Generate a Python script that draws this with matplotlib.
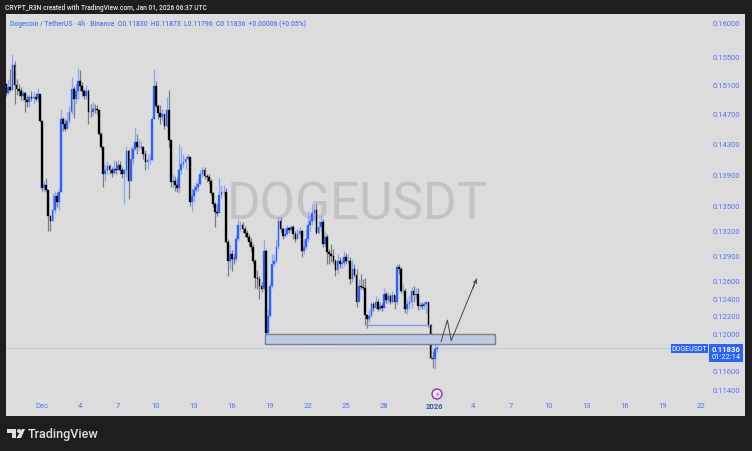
import numpy as np
import matplotlib
matplotlib.use("Agg")
import matplotlib.pyplot as plt
from matplotlib.patches import Rectangle, Polygon, Circle

plt.rcParams['font.family'] = ['Roboto', 'DejaVu Sans']

# 4h candles, first one sits 17 bars before Dec 1
first_bar = -17
first_open = 0.1511
closes = [
    .1498, .1507, .1503, .1538, .1510, .1504, .1501, .1494, .1498, .1489, .1486, .1493, .1492, .1493, .1490, .1497, .1460,
    .1372, .1377, .1370, .1338, .1332, .1345, .1363, .1355, .1368, .1463, .1456, .1450, .1460, .1473, .1504, .1490, .1501,
    .1515, .1508, .1501, .1494, .1501, .1473, .1472, .1477, .1476, .1475, .1443, .1426, .1390, .1395, .1401, .1396, .1392,
    .1397, .1395, .1402, .1396, .1391, .1395, .1420, .1382, .1410, .1423, .1432, .1426, .1426, .1426, .1417, .1406, .1408,
    .1409, .1463, .1508, .1480, .1471, .1466, .1470, .1454, .1475, .1435, .1380, .1382, .1377, .1372, .1395, .1404, .1406,
    .1410, .1412, .1355, .1363, .1370, .1374, .1378, .1391, .1395, .1388, .1386, .1381, .1366, .1353, .1343, .1341, .1364,
    .1367, .1368, .1306, .1283, .1292, .1286, .1285, .1310, .1327, .1327, .1322, .1317, .1312, .1306,
    .1300, .1283, .1263, .1262, .1254, .1250, .1295, .1201, .1220, .1254, .1280, .1283, .1300, .1332, .1322, .1313, .1316,
    .1323, .1321, .1324, .1316, .1310, .1316, .1319, .1295, .1300, .1310, .1327, .1332, .1341, .1345, .1317, .1324, .1330,
    .1303, .1312, .1294, .1292, .1289, .1283, .1272, .1283, .1280, .1281, .1288, .1283, .1283, .1262, .1274, .1267, .1235,
    .1254, .1253, .1251, .1221, .1216, .1220, .1233, .1229, .1235, .1228, .1231, .1229, .1245, .1238, .1242, .1236, .1243,
    .1235, .1276, .1274, .1248, .1248, .1227, .1233, .1236, .1248, .1244, .1245, .1231, .1232, .1231, .1233, .1236, .1209,
    .1173, .1172, .1183, .11836,
]
highs = [
    .1512, .1518, .1532, .1554, .1543, .1518, .1511, .1507, .1503, .1500, .1496, .1496, .1501, .1500, .1499, .1505, .1497,
    .1460, .1381, .1385, .1370, .1339, .1366, .1369, .1368, .1372, .1476, .1466, .1463, .1473, .1480, .1521, .1508, .1511,
    .1534, .1531, .1514, .1504, .1510, .1504, .1483, .1486, .1483, .1482, .1475, .1446, .1427, .1404, .1407, .1404, .1400,
    .1408, .1407, .1408, .1407, .1400, .1397, .1427, .1423, .1427, .1427, .1451, .1443, .1436, .1434, .1427, .1421, .1417,
    .1416, .1466, .1532, .1515, .1483, .1482, .1476, .1470, .1493, .1503, .1435, .1391, .1388, .1385, .1429, .1426, .1416,
    .1414, .1416, .1412, .1372, .1377, .1380, .1385, .1395, .1400, .1399, .1391, .1390, .1384, .1368, .1355, .1353, .1385,
    .1376, .1377, .1372, .1310, .1303, .1296, .1292, .1316, .1334, .1332, .1330, .1325, .1321, .1315,
    .1311, .1304, .1286, .1272, .1266, .1259, .1308, .1297, .1227, .1259, .1292, .1292, .1310, .1336, .1336, .1324, .1322,
    .1327, .1324, .1327, .1326, .1319, .1322, .1324, .1321, .1310, .1322, .1344, .1339, .1352, .1353, .1353, .1332, .1337,
    .1334, .1318, .1315, .1298, .1304, .1298, .1286, .1291, .1288, .1286, .1295, .1293, .1291, .1288, .1284, .1280, .1274,
    .1262, .1268, .1262, .1263, .1222, .1227, .1235, .1235, .1242, .1239, .1235, .1234, .1252, .1247, .1247, .1245, .1248,
    .1244, .1280, .1280, .1276, .1256, .1251, .1239, .1244, .1253, .1254, .1252, .1251, .1236, .1235, .1236, .1237, .1236,
    .1211, .1181, .1189, .11873,
]
lows = [
    .1494, .1497, .1501, .1503, .1483, .1496, .1494, .1489, .1487, .1472, .1479, .1479, .1487, .1484, .1487, .1486, .1459,
    .1369, .1368, .1368, .1319, .1319, .1332, .1341, .1349, .1345, .1367, .1447, .1447, .1452, .1457, .1470, .1464, .1484,
    .1490, .1501, .1494, .1490, .1490, .1456, .1466, .1467, .1471, .1470, .1442, .1423, .1374, .1381, .1391, .1390, .1387,
    .1391, .1390, .1395, .1390, .1385, .1352, .1387, .1359, .1388, .1404, .1421, .1417, .1423, .1421, .1410, .1396, .1397,
    .1404, .1408, .1463, .1479, .1463, .1456, .1460, .1450, .1452, .1426, .1374, .1372, .1369, .1367, .1366, .1390, .1399,
    .1397, .1408, .1350, .1344, .1355, .1367, .1369, .1377, .1387, .1384, .1380, .1378, .1362, .1349, .1324, .1338, .1341,
    .1360, .1363, .1305, .1265, .1274, .1271, .1279, .1283, .1307, .1319, .1317, .1312, .1309, .1301,
    .1295, .1280, .1251, .1250, .1239, .1247, .1250, .1200, .1201, .1218, .1252, .1277, .1281, .1298, .1318, .1309, .1312,
    .1314, .1317, .1319, .1310, .1306, .1309, .1312, .1288, .1292, .1298, .1306, .1319, .1327, .1332, .1315, .1316, .1319,
    .1300, .1301, .1280, .1280, .1282, .1280, .1266, .1268, .1275, .1275, .1277, .1280, .1279, .1256, .1258, .1264, .1230,
    .1239, .1250, .1249, .1210, .1206, .1213, .1218, .1225, .1227, .1225, .1226, .1225, .1229, .1234, .1234, .1233, .1234,
    .1227, .1233, .1268, .1246, .1244, .1223, .1222, .1227, .1229, .1236, .1239, .1226, .1227, .1228, .1227, .1223, .1207,
    .1172, .1162, .1161, .11796,
]

price_ticks = [0.16, 0.155, 0.151, 0.147, 0.143, 0.139, 0.135, 0.132, 0.129, 0.126, 0.124, 0.122, 0.12, 0.116, 0.114]
date_ticks = [0, 3, 6, 9, 12, 15, 18, 21, 24, 27, 31, 34, 37, 40, 43, 46, 49, 52]
date_labels = ['Dec', '4', '7', '10', '13', '16', '19', '22', '25', '28', '2026', '4', '7', '10', '13', '16', '19', '22']

zone_days = [17.6, 35.75]
zone_prices = [0.1189, 0.11995]
level_days = [25.6, 30.5]
level_price = 0.1209
path_days = [31.5, 32.0, 32.3, 34.3]
path_prices = [0.1191, 0.1215, 0.1192, 0.1262]

BLUE = '#2962ff'
TICK = '#4f78f5'
W, H = 752, 452

fig = plt.figure(figsize=(W / 100, H / 100), dpi=100, facecolor='#1e1e1e')
ax = fig.add_axes([6 / W, 1 - 417 / H, 739 / W, 402 / H], facecolor='#dcdcdc')
for s in ax.spines.values():
    s.set_visible(False)

closes = np.array(closes)
highs = np.array(highs)
lows = np.array(lows)
opens = np.r_[first_open, closes[:-1]]
opens[-1] = 0.1183
days = (first_bar + np.arange(len(closes))) / 6
up = closes >= opens
colors = np.where(up, BLUE, '#000000')

ax.vlines(days, lows, highs, colors=np.where(up, '#8ba6f7', '#7d7d7d'), lw=0.9, zorder=2)
ax.bar(days, np.abs(closes - opens), bottom=np.minimum(opens, closes), width=0.135,
       color=colors, edgecolor=colors, lw=0.25, zorder=3)

ax.set_yscale('log')
ax.set_xlim(-2.84, 55.49)
ax.set_ylim(0.1112, 0.16119)
ax.yaxis.tick_right()
ax.set_yticks(price_ticks)
ax.set_yticklabels(['%.5f' % p for p in price_ticks])
ax.minorticks_off()
ax.set_xticks(date_ticks)
ax.set_xticklabels(date_labels)
ax.tick_params(axis='y', length=0, pad=-23, labelsize=5.5, labelcolor=TICK)
ax.tick_params(axis='x', length=0, pad=-10, labelsize=5.5, labelcolor=TICK)
for lab in ax.get_yticklabels():
    lab.set_ha('left')
for lab in ax.get_xticklabels():
    if lab.get_text() == '2026':
        lab.set_fontweight('bold')
        lab.set_color('#3a55b0')

# drawings
ax.text(14.6, 0.1352, 'DOGEUSDT', color='#c3c3c3', fontsize=37, ha='left', va='center', zorder=1)
ax.add_patch(Rectangle((zone_days[0], zone_prices[0]), zone_days[1] - zone_days[0], zone_prices[1] - zone_prices[0],
                       facecolor='#bccbe8', edgecolor='#7f7f7f', lw=1, zorder=4))
ax.plot(level_days, [level_price, level_price], color='#7f9cf0', lw=1, zorder=4)
ax.plot(path_days, path_prices, color='#444444', lw=0.7, zorder=5)
ax.annotate('', xy=(path_days[-1], path_prices[-1]), xytext=(34.0, 0.1251),
            arrowprops=dict(arrowstyle='->', color='#444444', lw=0.7, mutation_scale=6, shrinkA=0, shrinkB=0), zorder=5)
ax.hlines(closes[-1], -2.84, (671 - 42) / 12.67, colors='#9fb4ee', lw=0.7, linestyles=(0, (1, 1)), zorder=1)

# overlay in pixels for the chrome around the chart
top = fig.add_axes([0, 0, 1, 1], facecolor='none')
top.set_xlim(0, W)
top.set_ylim(H, 0)
top.axis('off')

top.text(5, 8, 'CRYPT_R3N created with TradingView.com, Jan 01, 2026 06:37 UTC', color='#e6e6e6',
         fontsize=4.75, va='center', fontweight='medium')
top.text(10, 24, 'Dogecoin / TetherUS \u00b7 4h \u00b7 Binance  O0.11830  H0.11873  L0.11796  C0.11836  +0.00006 (+0.05%)',
         color='#4f78f5', fontsize=4.9, va='center', fontweight='medium')

top.add_patch(Rectangle((671, 345), 37, 9, facecolor=BLUE, edgecolor='none'))
top.text(689.5, 349.8, 'DOGEUSDT', color='white', fontsize=5.0, ha='center', va='center')
top.add_patch(Rectangle((709, 345), 34, 18, facecolor=BLUE, edgecolor='none'))
top.text(726, 350, '0.11836', color='white', fontsize=5.6, ha='center', va='center', fontweight='bold')
top.text(726, 358, '01:22:14', color='white', fontsize=5.4, ha='center', va='center')

top.add_patch(Circle((437, 395), 5, facecolor='#f2eef6', edgecolor='#9c27b0', lw=1))
top.text(437, 395, '\u26a1', color='#9c27b0', fontsize=5, ha='center', va='center')

# TradingView logo
top.add_patch(Polygon([(7, 430), (16, 430), (16, 439), (12, 439), (12, 434), (7, 434)], facecolor='#e0e0e0', edgecolor='none'))
top.add_patch(Circle((19, 432), 2, facecolor='#e0e0e0', edgecolor='none'))
top.add_patch(Polygon([(22, 430), (25, 430), (21, 439), (16.5, 439)], facecolor='#e0e0e0', edgecolor='none'))
top.text(28, 435, 'TradingView', color='#e0e0e0', fontsize=9.1, va='center', fontweight='medium')

fig.savefig('out.png', dpi=100, facecolor=fig.get_facecolor())
